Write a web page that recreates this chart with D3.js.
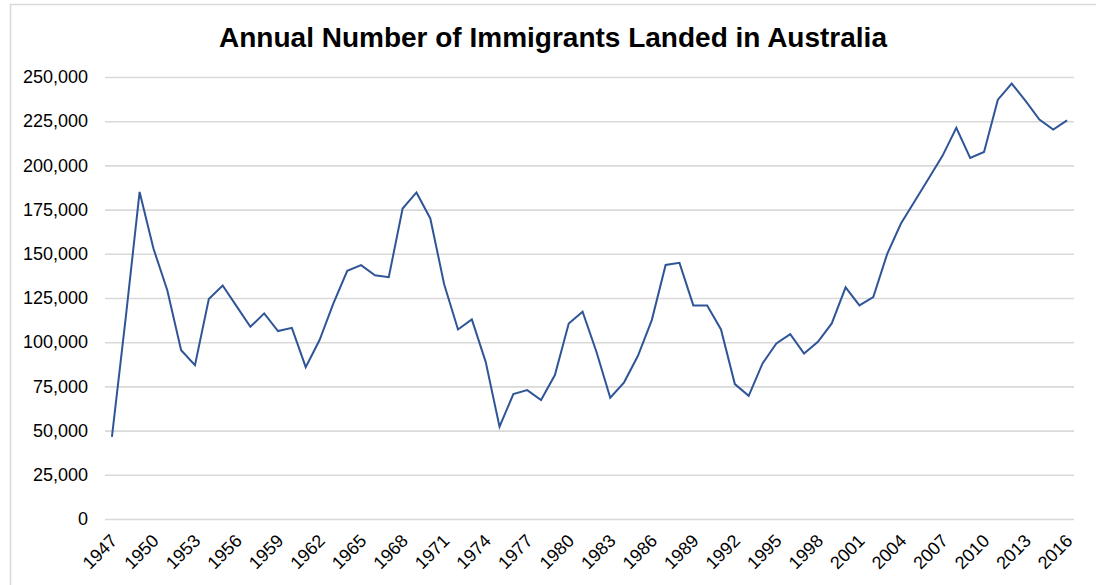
<!DOCTYPE html>
<html>
<head>
<meta charset="utf-8">
<script src="https://cdn.jsdelivr.net/npm/d3@7"></script>
<style>
  html, body { margin: 0; padding: 0; background: #fff; }
  svg { display: block; }
  text { font-family: "Liberation Sans", Arial, Helvetica, sans-serif; }
</style>
</head>
<body>
<svg id="chart" width="1096" height="585"></svg>
<script>
const title = "Annual Number of Immigrants Landed in Australia";
const years = d3.range(1947, 2017);
const immigrants = [
  46500, 114000, 185000, 153000, 129400, 95500, 87000, 124400, 132100, 120400,
  108700, 116300, 106300, 108100, 85900, 101200, 121900, 140400, 143600, 137900,
  136800, 175600, 184700, 170000, 132800, 107200, 112900, 88900, 52200, 70700,
  72900, 67300, 81400, 110600, 117200, 94600, 68600, 77300, 92300, 112500,
  143700, 144900, 120800, 120800, 107200, 76300, 69700, 88000, 99300, 104600,
  93600, 100200, 110600, 131000, 120800, 125500, 149800, 167100, 179900, 192600,
  205400, 221200, 204200, 207600, 237200, 246300, 236500, 225900, 220300, 225500
];
const yTicks = [0, 25000, 50000, 75000, 100000, 125000, 150000, 175000, 200000, 225000, 250000];
const xTickYears = d3.range(1947, 2017, 3);

const svg = d3.select("#chart");
const W = 1096, H = 585;
const plot = { left: 105, right: 1074, top: 77, bottom: 519 };

// chart frame
svg.append("path")
  .attr("d", `M10.5,${H + 2} V4.5 H${W + 2}`)
  .attr("fill", "none")
  .attr("stroke", "#d9d9d9")
  .attr("stroke-width", 1.5);

svg.append("text")
  .attr("x", 553)
  .attr("y", 47)
  .attr("text-anchor", "middle")
  .attr("font-size", 28)
  .attr("font-weight", "bold")
  .attr("fill", "#000")
  .text(title);

const x = d3.scalePoint()
  .domain(years)
  .range([plot.left, plot.right])
  .padding(0.5);

const y = d3.scaleLinear()
  .domain([0, 250000])
  .range([plot.bottom, plot.top]);

const fmt = d3.format(",");

const yAxis = d3.axisLeft(y)
  .tickValues(yTicks)
  .tickSize(-(plot.right - plot.left))
  .tickPadding(17)
  .tickFormat(fmt);

const gy = svg.append("g")
  .attr("transform", `translate(${plot.left},0)`)
  .call(yAxis);
gy.select(".domain").remove();
gy.selectAll(".tick line")
  .attr("stroke", "#d9d9d9")
  .attr("stroke-width", 1.6);
gy.selectAll(".tick text")
  .attr("font-size", 18)
  .attr("fill", "#000")
  .attr("font-family", "Liberation Sans, Arial, sans-serif");

const xAxis = d3.axisBottom(x)
  .tickValues(xTickYears)
  .tickSize(0)
  .tickPadding(0);

const gx = svg.append("g")
  .attr("transform", `translate(0,${plot.bottom})`)
  .call(xAxis);
gx.select(".domain").remove();
gx.selectAll(".tick text")
  .attr("font-size", 18)
  .attr("fill", "#000")
  .attr("font-family", "Liberation Sans, Arial, sans-serif")
  .attr("text-anchor", "end")
  .attr("dy", null)
  .attr("y", 0)
  .attr("transform", "translate(6,23) rotate(-45)");

const line = d3.line()
  .x((d, i) => x(years[i]))
  .y(d => y(d));

svg.append("path")
  .datum(immigrants)
  .attr("d", line)
  .attr("fill", "none")
  .attr("stroke", "#2f5597")
  .attr("stroke-width", 2)
  .attr("stroke-linejoin", "miter");
</script>
</body>
</html>
